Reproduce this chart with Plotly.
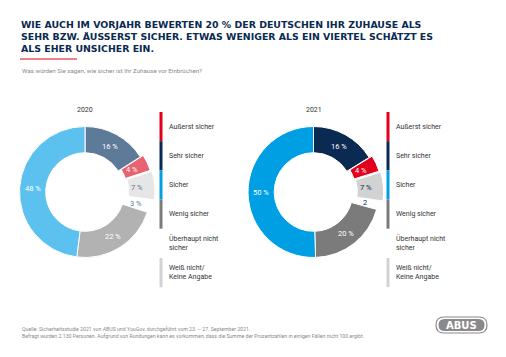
import math
import plotly.graph_objects as go

# ---------------- data ----------------
slice_labels = ["Sehr sicher", "Äußerst sicher", "Weiß nicht/Keine Angabe",
                "Überhaupt nicht sicher", "Wenig sicher", "Sicher"]
values_2020 = [16, 4, 7, 3, 22, 48]
values_2021 = [16, 4, 7, 2, 20, 50]
years = ["2020", "2021"]

legend_labels = ["Außerst sicher", "Sehr sicher", "Sicher", "Wenig sicher",
                 "Überhaupt nicht<br>sicher", "Weiß nicht/<br>Keine Angabe"]
legend_colors = ["#e2001a", "#0a2a52", "#009fe3", "#7b7b7b", "#ffffff", "#d2d2d2"]

title_text = ("WIE AUCH IM VORJAHR BEWERTEN 20 % DER DEUTSCHEN IHR ZUHAUSE ALS<br>"
              "SEHR BZW. ÄUSSERST SICHER. ETWAS WENIGER ALS EIN VIERTEL SCHÄTZT ES<br>"
              "ALS EHER UNSICHER EIN.")
subtitle_text = "Was würden Sie sagen, wie sicher ist Ihr Zuhause vor Einbrüchen?"
footer_text = ("Quelle: Sicherheitsstudie 2021 von ABUS und YouGov, durchgeführt vom 23. – 27. September 2021.<br>"
               "Befragt wurden 2.130 Personen. Aufgrund von Rundungen kann es vorkommen, dass die Summe der Prozentzahlen in einigen Fällen nicht 100 ergibt.")

# ---------------- style ----------------
W, H = 506, 357
FONT = "Roboto"
NAVY = "#0a2a52"
colors_2020 = ["#5d7a99", "#e8636f", "#e6e6e6", "#ffffff", "#b2b2b2", "#5cc1ee"]
colors_2021 = ["#0a2a52", "#e2001a", "#d2d2d2", "#ffffff", "#7b7b7b", "#009fe3"]
txtcol_2020 = ["#ffffff", "#ffffff", "#5d7a99", "#5d7a99", "#ffffff", "#ffffff"]
txtcol_2021 = ["#ffffff", "#ffffff", NAVY, NAVY, "#ffffff", "#ffffff"]
pulls = [0, 0.05, 0.07, 0, 0, 0]

R = 65.5
HOLE = 0.6
maxpull = max(pulls)
centers = [(85, 192), (313.5, 192)]

def dom(cx, cy):
    half = R * (1 + maxpull)
    return dict(x=[(cx - half) / W, (cx + half) / W],
                y=[(H - cy - half) / H, (H - cy + half) / H])

fig = go.Figure()
fig.update_layout(xaxis=dict(visible=False, range=[0, W], fixedrange=True),
                  yaxis=dict(visible=False, range=[H, 0], fixedrange=True))

for vals, cols, tcols, (cx, cy), yr in zip([values_2020, values_2021],
                                           [colors_2020, colors_2021],
                                           [txtcol_2020, txtcol_2021],
                                           centers, years):
    fig.add_trace(go.Pie(
        labels=slice_labels, values=vals, hole=HOLE, sort=False,
        direction="clockwise", rotation=0, pull=pulls,
        marker=dict(colors=cols, line=dict(color="#ffffff", width=1)),
        textinfo="none", domain=dom(cx, cy), showlegend=False, hoverinfo="skip"))
    # value labels, placed at the middle of each slice's ring
    total = sum(vals)
    cum = 0
    r_lab = R * (1 + HOLE) / 2
    for i, v in enumerate(vals):
        ang = 2 * math.pi * (cum + v / 2) / total
        cum += v
        txt = f"{v} %"
        if yr == "2021" and i == 3:
            txt = f"{v}"
        fig.add_annotation(x=cx + r_lab * math.sin(ang), y=cy - r_lab * math.cos(ang),
                           xref="x", yref="y", text=txt, showarrow=False,
                           xanchor="center", yanchor="middle",
                           font=dict(family=FONT, size=7.5, color=tcols[i]))
    fig.add_annotation(x=cx, y=110, xref="x", yref="y",
                       text=yr, showarrow=False, xanchor="center", yanchor="middle",
                       font=dict(family=FONT, size=7, color="#333333"))

shapes = []
legend_x = [161, 388]
seg_top, seg_h = 112, 29.2
for lx in legend_x:
    for i, (lab, col) in enumerate(zip(legend_labels, legend_colors)):
        y0 = seg_top + i * seg_h
        y1 = y0 + seg_h
        shapes.append(dict(type="rect", xref="x", yref="y",
                           x0=lx - 1.5, x1=lx + 1.5, y0=y0, y1=y1,
                           fillcolor=col, line=dict(width=0), layer="above"))
        fig.add_annotation(x=lx + 6, y=(y0 + y1) / 2, xref="x", yref="y",
                           text=lab, showarrow=False,
                           xanchor="left", yanchor="middle", align="left",
                           font=dict(family=FONT, size=7, color="#333333"))

# red rule under the title
shapes.append(dict(type="line", xref="x", yref="y", x0=20, x1=77, y0=59, y1=59,
                   line=dict(color="#e2001a", width=1)))

# ABUS logo
def rrect(x0, y0, x1, y1, r):
    return (f"M{x0+r},{y0} L{x1-r},{y0} Q{x1},{y0} {x1},{y0+r} L{x1},{y1-r} "
            f"Q{x1},{y1} {x1-r},{y1} L{x0+r},{y1} Q{x0},{y1} {x0},{y1-r} "
            f"L{x0},{y0+r} Q{x0},{y0} {x0+r},{y0} Z")

shapes.append(dict(type="path", xref="x", yref="y",
                   path=rrect(436, 317, 487, 333, 8),
                   fillcolor="#ffffff", line=dict(color="#8a8a8a", width=1.2)))
shapes.append(dict(type="path", xref="x", yref="y",
                   path=rrect(438.5, 319, 484.5, 331, 6),
                   fillcolor="#8a8a8a", line=dict(width=0)))
fig.add_annotation(x=461.5, y=325.3, xref="x", yref="y", text="<b>ABUS</b>",
                   showarrow=False, xanchor="center", yanchor="middle",
                   font=dict(family="DejaVu Sans", size=10, color="#ffffff"))

# title
fig.add_annotation(x=19, y=17, xref="x", yref="y",
                   text=f"<b>{title_text}</b>", showarrow=False, xanchor="left",
                   yanchor="top", align="left",
                   font=dict(family="DejaVu Sans", size=9.4, color=NAVY))
fig.add_annotation(x=20, y=71, xref="x", yref="y",
                   text=subtitle_text, showarrow=False, xanchor="left",
                   yanchor="middle", align="left",
                   font=dict(family=FONT, size=6.2, color="#8a8a8a"))
fig.add_annotation(x=20, y=332, xref="x", yref="y",
                   text=footer_text, showarrow=False, xanchor="left",
                   yanchor="middle", align="left",
                   font=dict(family=FONT, size=5.2, color="#8a8a8a"))

fig.update_layout(width=W, height=H, margin=dict(l=0, r=0, t=0, b=0),
                  paper_bgcolor="#ffffff", plot_bgcolor="rgba(0,0,0,0)",
                  shapes=shapes)
fig.write_html("out.html", config={"displayModeBar": False},
               post_script="document.body.style.margin='0';document.body.style.overflow='hidden';")
